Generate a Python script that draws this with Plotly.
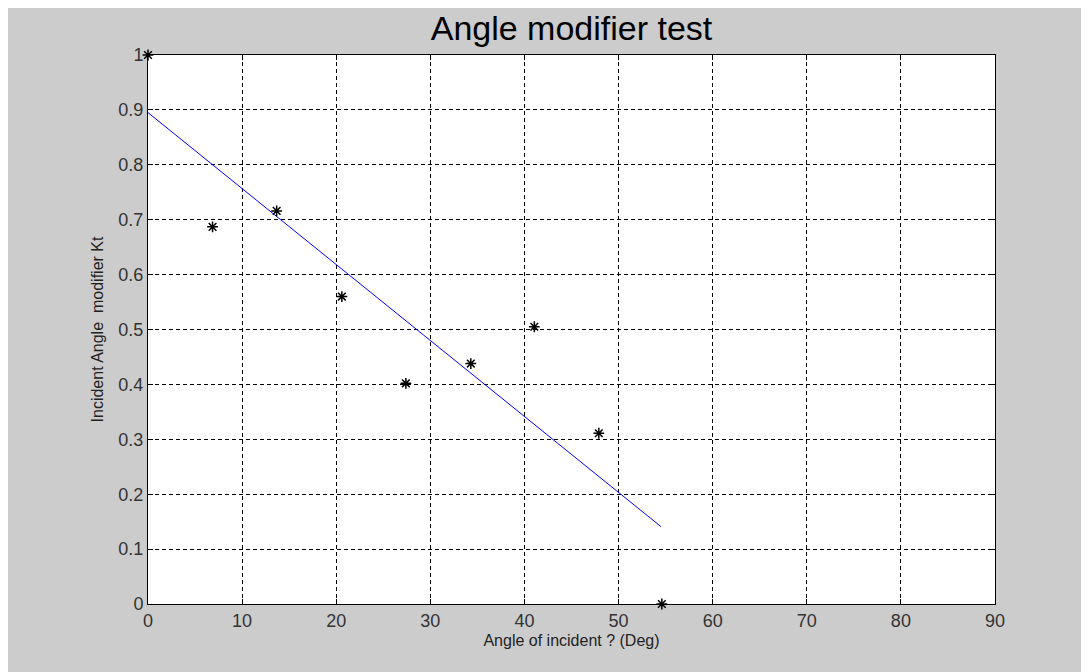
import plotly.graph_objects as go

# Measured data (angle of incidence in degrees, incident angle modifier Kt)
angle_deg = [0, 6.86, 13.67, 20.6, 27.4, 34.3, 41.05, 47.9, 54.6]
kt_values = [1.0, 0.687, 0.716, 0.560, 0.402, 0.438, 0.505, 0.311, 0.0]

# Linear fit line
fit_x = [0, 54.5]
fit_y = [0.895, 0.141]

x_ticks = [0, 10, 20, 30, 40, 50, 60, 70, 80, 90]
y_ticks = [0, 0.1, 0.2, 0.3, 0.4, 0.5, 0.6, 0.7, 0.8, 0.9, 1]
y_tick_labels = ["0", "0.1", "0.2", "0.3", "0.4", "0.5", "0.6", "0.7", "0.8", "0.9", "1"]

TICK_FONT = "Liberation Sans Narrow, Arial Narrow, Liberation Sans, Arial, sans-serif"
LABEL_FONT = "Liberation Sans, Arial, sans-serif"

fig = go.Figure()
fig.add_trace(go.Scatter(
    x=fit_x, y=fit_y, mode="lines",
    line=dict(color="#0000ff", width=1),
    showlegend=False, cliponaxis=False,
))
fig.add_trace(go.Scatter(
    x=angle_deg, y=kt_values, mode="markers",
    marker=dict(symbol="asterisk-open", size=9, color="black",
                line=dict(color="black", width=1.5)),
    showlegend=False, cliponaxis=False,
))

axis_common = dict(
    showline=True, linecolor="black", linewidth=1, mirror="ticks",
    ticks="inside", ticklen=5, tickcolor="black",
    showgrid=True, gridcolor="black", gridwidth=1, griddash="4px,3px",
    zeroline=False,
    tickfont=dict(family=TICK_FONT, size=18, color="#333333"),
)

fig.update_xaxes(
    range=[0, 90], tickvals=x_ticks,
    title=dict(text="Angle of incident ? (Deg)",
               font=dict(family=LABEL_FONT, size=16, color="#222222"),
               standoff=5),
    **axis_common,
)
fig.update_yaxes(
    range=[0, 1], tickvals=y_ticks, ticktext=y_tick_labels,
    title=dict(text="Incident Angle  modifier Kt",
               font=dict(family=LABEL_FONT, size=16, color="#222222"),
               standoff=10),
    **axis_common,
)

fig.update_layout(
    width=1089, height=672,
    margin=dict(l=140, r=102, t=47, b=76, pad=0),
    paper_bgcolor="#cccccc", plot_bgcolor="white",
    title=dict(text="Angle modifier test", x=(140 + 987) / 2 / 1089, xanchor="center",
               y=1 - 20 / 672, yanchor="middle",
               font=dict(family=LABEL_FONT, size=34, color="black")),
)

fig.write_html("out.html")
